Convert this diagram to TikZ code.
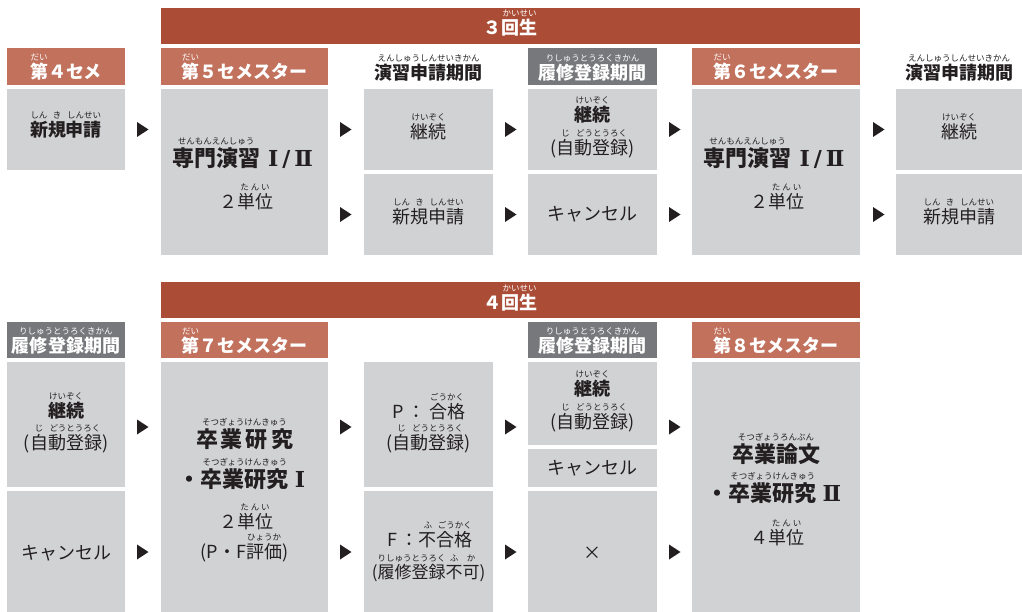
\documentclass[tikz,border=0pt]{standalone}
\usepackage{fontspec}
\setmainfont{Noto Sans CJK JP}
\newfontfamily\rmn{DejaVu Serif}
\definecolor{brick}{RGB}{170,76,54}
\definecolor{salmon}{RGB}{193,113,92}
\definecolor{hgrey}{RGB}{119,120,123}
\definecolor{cgrey}{RGB}{209,210,212}
\definecolor{ink}{RGB}{35,31,32}
\newcommand\rbf{\mdseries\fontsize{8.5}{9}\selectfont}
\newcommand\rb[2]{\leavevmode\setbox0\hbox{#1}\hbox to \wd0{\hss\raisebox{1.0em}[0pt][0pt]{\makebox[0pt]{\rbf #2}}\hss}\kern-\wd0\box0}
\newcommand\cellat[6]{\node[fill=#6, draw=none, inner sep=0pt, minimum width={(#4-#2)*1pt}, minimum height={(#5-#3)*1pt}] (#1) at ({(#2+#4)/2},{(#3+#5)/2}) {};}
\newcommand\tri[2]{\fill[ink] (#1,#2-7.5) -- (#1+11.5,#2) -- (#1,#2+7.5) -- cycle;}
\tikzset{
  tx/.style={anchor=base, inner sep=0pt, text=ink, font=\fontsize{18}{20}\selectfont},
  tb/.style={anchor=base, inner sep=0pt, text=ink, font=\bfseries\fontsize{18}{20}\selectfont},
  big/.style={anchor=base, inner sep=0pt, text=ink, font=\bfseries\fontsize{22}{24}\selectfont},
  hd/.style={anchor=base, inner sep=0pt, text=white, font=\bfseries\fontsize{18}{20}\selectfont},
}
\begin{document}
\begin{tikzpicture}[x=1pt,y=-1pt]
\useasboundingbox (0,0) rectangle (1022,612);
% ---------- top section ----------
\cellat{bar3}{161}{8}{860}{44}{brick}
\cellat{h1}{7}{48}{125}{85}{salmon}
\cellat{h2}{161}{48}{328}{85}{salmon}
\cellat{h4}{528}{48}{657}{85}{hgrey}
\cellat{h5}{692}{48}{860}{85}{salmon}
\cellat{c1}{7}{89}{125}{170}{cgrey}
\cellat{c2}{161}{89}{328}{255}{cgrey}
\cellat{c3a}{364}{89}{493}{170}{cgrey}
\cellat{c3b}{364}{174}{493}{255}{cgrey}
\cellat{c4a}{528}{89}{657}{170}{cgrey}
\cellat{c4b}{528}{174}{657}{255}{cgrey}
\cellat{c5}{692}{89}{860}{255}{cgrey}
\cellat{c6a}{896}{89}{1022}{170}{cgrey}
\cellat{c6b}{896}{174}{1022}{255}{cgrey}

\node[hd] (t3) at (510.5,35) {３\rb{回生}{かいせい}};
\node[hd] (th1) at (66,79) {\rb{第}{だい}４セメ};
\node[hd] (th2) at (244.5,79) {\rb{第}{だい}５セメスター};
\node[tb] (th3) at (428.5,80) {\rb{演習申請期間}{えんしゅうしんせいきかん}};
\node[hd] (th4) at (592.5,80) {\rb{履修登録期間}{りしゅうとうろくきかん}};
\node[hd] (th5) at (776,79) {\rb{第}{だい}６セメスター};
\node[tb] (th6) at (959,80) {\rb{演習申請期間}{えんしゅうしんせいきかん}};

\node[tb] (tc1) at (66,137) {\rb{新}{しん}\rb{規}{き}\rb{申請}{しんせい}};
\node[big] (tc2a) at (242.5,167) {\rb{専門演習}{せんもんえんしゅう}\hspace{8pt}{\rmn Ⅰ\hspace{4pt}/\hspace{4pt}Ⅱ}};
\node[tx] (tc2b) at (246,209) {２\rb{単位}{た\kern2pt ん\kern2pt い}};
\node[tx] (tc3a) at (428.5,139) {\rb{継続}{けいぞく}};
\node[tx] (tc3b) at (428.5,224) {\rb{新}{しん}\rb{規}{き}\rb{申請}{しんせい}};
\node[tb] (tc4a) at (592.5,122) {\rb{継続}{けいぞく}};
\node[tx] (tc4b) at (592.5,155) {(\rb{自}{じ}\rb{動登録}{どうとうろく})};
\node[tx] (tc4c) at (592.5,221) {キャンセル};
\node[big] (tc5a) at (774,167) {\rb{専門演習}{せんもんえんしゅう}\hspace{8pt}{\rmn Ⅰ\hspace{4pt}/\hspace{4pt}Ⅱ}};
\node[tx] (tc5b) at (777.5,209) {２\rb{単位}{た\kern2pt ん\kern2pt い}};
\node[tx] (tc6a) at (959,139) {\rb{継続}{けいぞく}};
\node[tx] (tc6b) at (959,224) {\rb{新}{しん}\rb{規}{き}\rb{申請}{しんせい}};

\tri{137}{129.5}
\tri{340}{129.5} \tri{340}{214.5}
\tri{505}{129.5} \tri{505}{214.5}
\tri{669}{129.5} \tri{669}{214.5}
\tri{873}{129.5} \tri{873}{214.5}

% ---------- bottom section ----------
\cellat{bar4}{161}{282}{860}{318}{brick}
\cellat{g1}{7}{322}{125}{358}{hgrey}
\cellat{g2}{161}{322}{328}{358}{salmon}
\cellat{g4}{528}{322}{657}{358}{hgrey}
\cellat{g5}{692}{322}{860}{358}{salmon}
\cellat{d1a}{7}{362}{125}{487}{cgrey}
\cellat{d1b}{7}{491}{125}{612}{cgrey}
\cellat{d2}{161}{362}{328}{612}{cgrey}
\cellat{d3a}{364}{362}{493}{487}{cgrey}
\cellat{d3b}{364}{491}{493}{612}{cgrey}
\cellat{d4a}{528}{362}{657}{445}{cgrey}
\cellat{d4b}{528}{449}{657}{487}{cgrey}
\cellat{d4c}{528}{491}{657}{612}{cgrey}
\cellat{d5}{692}{362}{860}{612}{cgrey}

\node[hd] (t4) at (510.5,309) {４\rb{回生}{かいせい}};
\node[hd] (tg1) at (66,352) {\rb{履修登録期間}{りしゅうとうろくきかん}};
\node[hd] (tg2) at (244.5,352) {\rb{第}{だい}７セメスター};
\node[hd] (tg4) at (592.5,352) {\rb{履修登録期間}{りしゅうとうろくきかん}};
\node[hd] (tg5) at (776,352) {\rb{第}{だい}８セメスター};

\node[tb] (td1a) at (66,417) {\rb{継続}{けいぞく}};
\node[tx] (td1b) at (66,449) {(\rb{自}{じ}\rb{動登録}{どうとうろく})};
\node[tx] (td1c) at (66,559) {キャンセル};
\node[big] (td2a) at (244.5,447) {\rb{卒\kern3pt 業\kern3pt 研\kern3pt 究}{そつぎょうけんきゅう}};
\node[big] (td2b) at (242,487) {・\rb{卒業研究}{そつぎょうけんきゅう}\hspace{6pt}{\rmn Ⅰ}};
\node[tx] (td2c) at (246,528) {２\rb{単位}{た\kern2pt ん\kern2pt い}};
\node[tx] (td2d) at (244.5,558) {(P・F\rb{評価}{ひょうか})};
\node[tx] (td3a) at (429,418) {P\hspace{3pt}：\hspace{4pt}\rb{合格}{ごうかく}};
\node[tx] (td3b) at (428.5,449) {(\rb{自}{じ}\rb{動登録}{どうとうろく})};
\node[tx] (td3c) at (430,546) {F ：\rb{不}{ふ}\rb{合格}{ごうかく}};
\node[tx, font=\fontsize{17}{19}\selectfont] (td3d) at (428.5,578) {(\rb{履修登録}{りしゅうとうろく}\rb{不}{ふ}\rb{可}{か})};
\node[tb] (td4a) at (592.5,395) {\rb{継続}{けいぞく}};
\node[tx] (td4b) at (592.5,428) {(\rb{自}{じ}\rb{動登録}{どうとうろく})};
\node[tx] (td4c) at (592.5,474) {キャンセル};
\node[tx] (td4d) at (592.5,559) {×};
\node[big] (td5a) at (776,462) {\rb{卒業論文}{そつぎょうろんぶん}};
\node[big] (td5b) at (774,501) {・\rb{卒業研究}{そつぎょうけんきゅう}\hspace{6pt}{\rmn Ⅱ}};
\node[tx] (td5c) at (777.5,544) {４\rb{単位}{た\kern2pt ん\kern2pt い}};

\tri{137}{427} \tri{137}{552}
\tri{340}{427} \tri{340}{552}
\tri{505}{427} \tri{505}{552}
\tri{669}{427} \tri{669}{552}
\end{tikzpicture}
\end{document}
